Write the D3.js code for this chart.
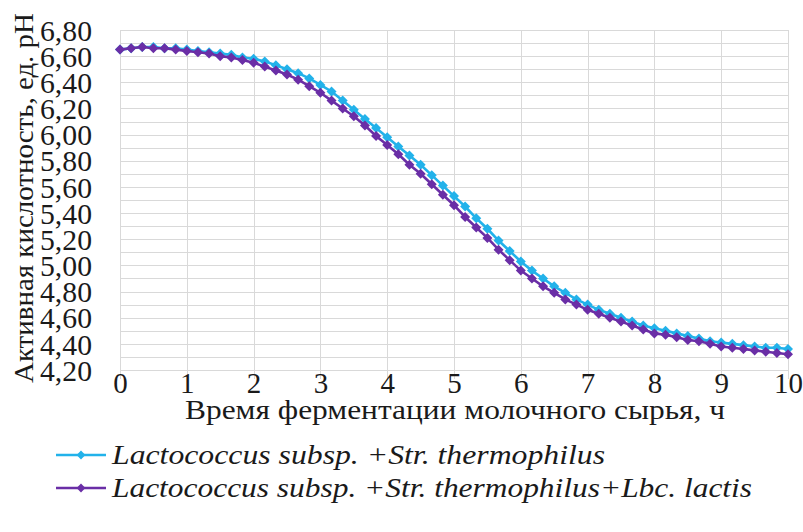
<!DOCTYPE html>
<html>
<head>
<meta charset="utf-8">
<script src="https://cdn.jsdelivr.net/npm/d3@7"></script>
<style>
  html, body { margin: 0; padding: 0; background: #fff; }
  svg { display: block; }
</style>
</head>
<body>
<svg id="chart" width="803" height="532"></svg>
<script>
// Fermentation time, h (10-minute readings)
const timeHours = d3.range(0, 61).map(i => i / 6);

// Active acidity, pH units
const seriesA = [
  6.65, 6.66, 6.67, 6.67, 6.66, 6.66, 6.65, 6.64, 6.63, 6.62,
  6.61, 6.59, 6.58, 6.56, 6.53, 6.50, 6.47, 6.43, 6.38, 6.33,
  6.26, 6.19, 6.12, 6.05, 5.98, 5.91, 5.84, 5.77, 5.69, 5.61,
  5.53, 5.45, 5.36, 5.28, 5.19, 5.11, 5.03, 4.96, 4.90, 4.84,
  4.79, 4.74, 4.70, 4.66, 4.63, 4.60, 4.57, 4.54, 4.52, 4.50,
  4.48, 4.46, 4.44, 4.42, 4.41, 4.40, 4.39, 4.38, 4.37, 4.37,
  4.36
];
const seriesB = [
  6.65, 6.66, 6.67, 6.66, 6.66, 6.65, 6.64, 6.63, 6.62, 6.60,
  6.59, 6.57, 6.55, 6.52, 6.49, 6.46, 6.42, 6.37, 6.32, 6.26,
  6.20, 6.14, 6.07, 5.99, 5.92, 5.85, 5.77, 5.70, 5.62, 5.54,
  5.46, 5.37, 5.29, 5.21, 5.12, 5.04, 4.96, 4.90, 4.84, 4.79,
  4.74, 4.70, 4.66, 4.63, 4.60, 4.57, 4.54, 4.51, 4.48, 4.47,
  4.45, 4.43, 4.42, 4.40, 4.38, 4.37, 4.36, 4.35, 4.34, 4.33,
  4.32
];

const seriesNames = [
  "Lactococcus subsp. +Str. thermophilus",
  "Lactococcus subsp. +Str. thermophilus+Lbc. lactis"
];
const seriesColors = ["#22b2ea", "#6a2ea6"];

const xTicks = [0, 1, 2, 3, 4, 5, 6, 7, 8, 9, 10];
const yTicks = [4.2, 4.4, 4.6, 4.8, 5.0, 5.2, 5.4, 5.6, 5.8, 6.0, 6.2, 6.4, 6.6, 6.8];
const yGrid = d3.range(42, 69).map(v => v / 10);

const xTitle = "Время ферментации молочного сырья, ч";
const yTitle = "Активная кислотность, ед. pH";

const serif = '"Liberation Serif", "Times New Roman", serif';

const svg = d3.select("#chart");
const x = d3.scaleLinear().domain([0, 10]).range([120, 788]);
const y = d3.scaleLinear().domain([4.2, 6.8]).range([370, 30]);
const fmt = v => d3.format(".2f")(v).replace(".", ",");
const ink = "#1a1a1a";

// grid
const grid = svg.append("g").attr("stroke", "#d9d9d9").attr("stroke-width", 1);
grid.selectAll("line.h").data(yGrid).join("line")
  .attr("class", "h")
  .attr("x1", x(0)).attr("x2", x(10))
  .attr("y1", d => Math.round(y(d)) + 0.5).attr("y2", d => Math.round(y(d)) + 0.5);
grid.selectAll("line.v").data(xTicks).join("line")
  .attr("class", "v")
  .attr("x1", d => Math.round(x(d)) + 0.5).attr("x2", d => Math.round(x(d)) + 0.5)
  .attr("y1", y(6.8)).attr("y2", y(4.2) + 9);

// axes (labels only; grid drawn above)
const xAxis = svg.append("g")
  .attr("transform", `translate(0,${y(4.2)})`)
  .call(d3.axisBottom(x).tickValues(xTicks).tickSize(0).tickPadding(2).tickFormat(d3.format("d")));
xAxis.select(".domain").remove();
xAxis.selectAll("text").attr("font-size", 29).attr("font-family", serif).attr("fill", ink);

const yAxis = svg.append("g")
  .attr("transform", `translate(${x(0)},0)`)
  .call(d3.axisLeft(y).tickValues(yTicks).tickSize(0).tickPadding(28).tickFormat(fmt));
yAxis.select(".domain").remove();
yAxis.selectAll("text").attr("font-size", 30).attr("font-family", serif).attr("fill", ink)
  .attr("dy", "0.34em")
  .attr("textLength", 52).attr("lengthAdjust", "spacingAndGlyphs");

// titles
svg.append("text")
  .attr("x", 455).attr("y", 419)
  .attr("text-anchor", "middle")
  .attr("font-family", serif).attr("fill", ink)
  .attr("font-size", 28)
  .attr("textLength", 540).attr("lengthAdjust", "spacingAndGlyphs")
  .text(xTitle);

svg.append("text")
  .attr("transform", "translate(33,198) rotate(-90)")
  .attr("text-anchor", "middle")
  .attr("font-family", serif).attr("fill", ink)
  .attr("font-size", 28)
  .attr("textLength", 370).attr("lengthAdjust", "spacingAndGlyphs")
  .text(yTitle);

// series
const diamond = r => `M0,${-r}L${r},0L0,${r}L${-r},0Z`;
const line = d3.line().x(d => x(d[0])).y(d => y(d[1]));

[seriesA, seriesB].forEach((vals, i) => {
  const pts = timeHours.map((t, k) => [t, vals[k]]);
  const g = svg.append("g");
  g.append("path").datum(pts)
    .attr("d", line)
    .attr("fill", "none")
    .attr("stroke", seriesColors[i])
    .attr("stroke-width", 2.6);
  g.selectAll("path.m").data(pts).join("path")
    .attr("class", "m")
    .attr("d", diamond(5))
    .attr("transform", d => `translate(${x(d[0])},${y(d[1])})`)
    .attr("fill", seriesColors[i]);
});

// legend
const legendY = [455, 488];
const legendW = [493, 640];
seriesNames.forEach((name, i) => {
  const g = svg.append("g").attr("transform", `translate(0,${legendY[i]})`);
  g.append("line").attr("x1", 56).attr("x2", 106).attr("y1", 0).attr("y2", 0)
    .attr("stroke", seriesColors[i]).attr("stroke-width", 2.6);
  g.append("path").attr("d", diamond(4.4)).attr("transform", "translate(81,0)")
    .attr("fill", seriesColors[i]);
  g.append("text")
    .attr("x", 112).attr("y", 9)
    .attr("font-family", serif).attr("fill", ink)
    .attr("font-size", 28)
    .attr("font-style", "italic")
    .attr("textLength", legendW[i]).attr("lengthAdjust", "spacingAndGlyphs")
    .text(name);
});
</script>
</body>
</html>
